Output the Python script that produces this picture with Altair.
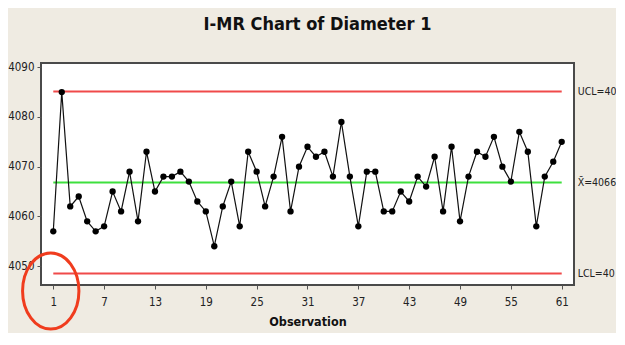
import altair as alt
import pandas as pd

observations = list(range(1, 62))
diameters = [
    4057, 4085, 4062, 4064, 4059, 4057, 4058, 4065, 4061, 4069,
    4059, 4073, 4065, 4068, 4068, 4069, 4067, 4063, 4061, 4054,
    4062, 4067, 4058, 4073, 4069, 4062, 4068, 4076, 4061, 4070,
    4074, 4072, 4073, 4068, 4079, 4068, 4058, 4069, 4069, 4061,
    4061, 4065, 4063, 4068, 4066, 4072, 4061, 4074, 4059, 4068,
    4073, 4072, 4076, 4070, 4067, 4077, 4073, 4058, 4068, 4071,
    4075,
]

# Control limits
limit_names = ["UCL=4085.1", "X\u0304=4066.8", "LCL=4048.5"]
limit_values = [4085.1, 4066.8, 4048.5]
limit_colors = ["#F04A4A", "#3EE03E", "#F04A4A"]

# Hand-drawn highlight ellipse around the first tick (data space)
highlight_obs = [0.7]
highlight_val = [4045.0]

x_ticks = [1, 7, 13, 19, 25, 31, 37, 43, 49, 55, 61]
y_ticks = [4050, 4060, 4070, 4080, 4090]

FONT = "DejaVu Sans Condensed, Liberation Sans, sans-serif"

df = pd.DataFrame({"obs": observations, "val": diameters})
lim = pd.DataFrame({
    "name": limit_names,
    "val": limit_values,
    "color": limit_colors,
    "x1": [observations[0]] * 3,
    "x2": [observations[-1]] * 3,
})
hl = pd.DataFrame({"obs": highlight_obs, "val": highlight_val})

xscale = alt.Scale(domain=[-0.45, 62.45], nice=False, zero=False)
yscale = alt.Scale(domain=[4046.2, 4090.85], nice=False, zero=False)

xaxis = alt.Axis(values=x_ticks, title="Observation", grid=False, domain=False,
                 format="d",
                 tickSize=4, tickColor="#555555", labelPadding=7,
                 labelFont=FONT, labelFontSize=11.5, labelColor="#222222",
                 titleFont=FONT, titleFontSize=12.5, titleFontWeight="bold",
                 titleColor="#111111", titlePadding=8)
yaxis = alt.Axis(values=y_ticks, title=None, grid=False, domain=False,
                 format="d",
                 tickSize=4, tickColor="#555555", labelPadding=3,
                 labelFont=FONT, labelFontSize=11.5, labelColor="#222222")

rules = alt.Chart(lim).mark_rule(strokeWidth=2).encode(
    x=alt.X("x1:Q", scale=xscale, axis=xaxis),
    x2="x2:Q",
    y=alt.Y("val:Q", scale=yscale, axis=yaxis),
    color=alt.Color("color:N", scale=None),
)

# The reference crops these labels at the right edge of the picture;
# limit keeps the visible part inside the page.
labels = alt.Chart(lim).mark_text(align="left", baseline="middle", dx=16,
                                  font=FONT, fontSize=10.5, color="#222222",
                                  limit=39, ellipsis="\u200b").encode(
    x=alt.X("x2:Q", scale=xscale),
    y=alt.Y("val:Q", scale=yscale),
    text="name:N",
)

line = alt.Chart(df).mark_line(color="#111111", strokeWidth=1.2).encode(
    x=alt.X("obs:Q", scale=xscale),
    y=alt.Y("val:Q", scale=yscale),
)

points = alt.Chart(df).mark_circle(color="#000000", size=40, opacity=1).encode(
    x=alt.X("obs:Q", scale=xscale),
    y=alt.Y("val:Q", scale=yscale),
)

ELLIPSE = "M -0.74,0 A 0.74,1 0 1,1 0.74,0 A 0.74,1 0 1,1 -0.74,0 Z"
highlight = alt.Chart(hl).mark_point(
    shape=ELLIPSE, size=5800, filled=False, stroke="#F03C1E",
    strokeWidth=3, opacity=1,
).encode(
    x=alt.X("obs:Q", scale=xscale),
    y=alt.Y("val:Q", scale=yscale),
)

chart = alt.layer(rules, line, points, labels, highlight).properties(
    width=533,
    height=222,
    autosize=alt.AutoSizeParams(type="none"),
    padding={"left": 33, "top": 55, "right": 42, "bottom": 48},
    background="#EFEBE2",
    title=alt.TitleParams(
        text="I-MR Chart of Diameter 1",
        font=FONT, fontSize=18, fontWeight="bold", color="#111111",
        anchor="middle", dx=10, offset=27,
    ),
).configure_view(
    fill="white", stroke="#4A4A4A", strokeWidth=2,
)

chart.save("out.html", embed_options={"renderer": "svg", "actions": False})
